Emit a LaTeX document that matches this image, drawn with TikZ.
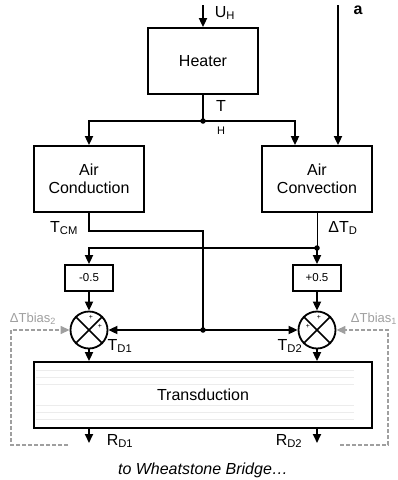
\documentclass[tikz,border=0pt]{standalone}
\usepackage{fontspec}
\setmainfont{Liberation Sans}
\usetikzlibrary{arrows.meta,positioning}
\begin{document}
\begin{tikzpicture}[x=1pt,y=-1pt,>={Triangle[length=9pt,width=8pt]},line width=1.8pt,
  blk/.style={draw,line width=1.8pt,minimum width=110pt,minimum height=66pt,align=center,inner sep=0pt,font=\fontsize{16}{18}\selectfont},
  gain/.style={draw,line width=1.8pt,minimum width=48pt,minimum height=26pt,inner sep=0pt,font=\fontsize{11.5}{13}\selectfont},
  sum/.style={draw,circle,line width=1.8pt,minimum size=37pt,inner sep=0pt},
  lbl/.style={inner sep=0pt,font=\fontsize{16}{18}\selectfont},
  pls/.style={inner sep=0pt,font=\fontsize{7}{8}\selectfont},
  bias/.style={gray!75,dash pattern=on 4pt off 2pt,line width=1.3pt},
  dot/.style={circle,fill,inner sep=0pt,minimum size=5.5pt}]
\useasboundingbox (0,0) rectangle (398,480);
\node[blk] (heater) at (203,61) {Heater};
\node[blk] (cond) at (89,179) {Air\\Conduction};
\node[blk] (conv) at (317,179) {Air\\Convection};
\node[gain] (m05) at (89,278) {-0.5};
\node[gain] (p05) at (317,278) {+0.5};
\node[sum] (s1) at (89,330) {};
\node[sum] (s2) at (317,330) {};
\foreach \y in {370,377,384,405,412,419}
  \draw[gray!15,line width=0.5pt] (36,\y) -- (354,\y);
\node[blk,minimum width=338pt] (trans) at (203,395) {Transduction};
\coordinate (uh) at (203,5);
\coordinate (ain) at (338,5);
\coordinate (jh) at (203,121);
\coordinate (tc) at (203,231);
\coordinate (jd) at (317,248);
\coordinate (jc) at (203,330);
\coordinate (r1) at (89,443);
\coordinate (r2) at (317,443);
\coordinate (b2) at (11,330);
\coordinate (b2e) at (68,445);
\coordinate (b1) at (388,330);
\coordinate (b1e) at (340,445);
\draw[->] (uh) -- (heater);
\draw[->] (ain) -- (ain |- conv.north);
\draw (heater) -- (jh);
\draw[->] (jh) -| (cond.north);
\draw[->] (jh) -| ([xshift=-22pt]conv.north);
\draw (cond.south) |- (tc) -- (jc);
\draw[line width=1pt] (conv.south) -- (jd);
\draw[->] (jd) -| (m05.north);
\draw[->] (jd) -- (p05);
\draw[->] (m05) -- (s1);
\draw[->] (p05) -- (s2);
\draw[->] (jc) -- (s1.east);
\draw[->] (jc) -- (s2.west);
\foreach \s in {s1,s2}{
  \draw[line width=1.5pt] (\s.north west) -- (\s.south east);
  \draw[line width=1.5pt] (\s.north east) -- (\s.south west);
  \draw[->] (\s) -- (\s |- trans.north);
}
\draw[->] (trans.south -| r1) -- (r1);
\draw[->] (trans.south -| r2) -- (r2);
\draw[bias,->] (b2e) -| (b2) -- (s1.west);
\draw[bias,->] (b1e) -| (b1) -- (s2.east);
\node[dot] at (jh) {};
\node[dot] at (jd) {};
\node[dot] at (jc) {};
\node[pls] at ([shift={(2,-13)}]s1.center) {+};
\node[pls] at ([shift={(11,-4)}]s1.center) {+};
\node[pls] at ([shift={(2,-13)}]s2.center) {+};
\node[pls] at ([shift={(-9,-4)}]s2.center) {+};
\node[lbl,anchor=west] at (214,13) {U\textsubscript{H}};
\node[lbl,font=\fontsize{16}{18}\selectfont\bfseries] at (358,10) {a};
\node[lbl] at (221,106) {T};
\node[lbl,font=\fontsize{11}{13}\selectfont] at (221,131) {H};
\node[lbl] at (64,228) {T\textsubscript{CM}};
\node[lbl] at (343,228) {ΔT\textsubscript{D}};
\node[lbl] at (120,346) {T\textsubscript{D1}};
\node[lbl] at (290,346) {T\textsubscript{D2}};
\node[lbl] at (120,441) {R\textsubscript{D1}};
\node[lbl] at (289,441) {R\textsubscript{D2}};
\node[lbl,gray!75,font=\fontsize{13}{15}\selectfont] at (33,319) {ΔTbias\textsubscript{2}};
\node[lbl,gray!75,font=\fontsize{13}{15}\selectfont] at (374,319) {ΔTbias\textsubscript{1}};
\node[lbl,font=\fontsize{16}{18}\selectfont\itshape] at (203,470) {to Wheatstone Bridge…};
\end{tikzpicture}
\end{document}
